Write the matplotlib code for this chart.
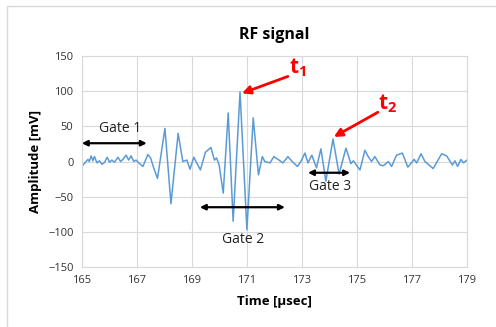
import matplotlib.pyplot as plt
from matplotlib.patches import Rectangle

# waveform (time in usec, amplitude in mV)
time_us = [165.00, 165.22, 165.27, 165.34, 165.40, 165.46, 165.55, 165.64, 165.73, 165.83,
           165.92, 166.01, 166.09, 166.19, 166.31, 166.41, 166.49, 166.61, 166.70, 166.79,
           166.89, 166.97, 167.10, 167.22, 167.40, 167.50, 167.62, 167.75, 168.02, 168.24,
           168.50, 168.67, 168.82, 168.93, 169.07, 169.31, 169.49, 169.69, 169.82, 169.90,
           169.99, 170.14, 170.32, 170.50, 170.75, 171.00, 171.23, 171.42, 171.56, 171.65,
           171.84, 171.98, 172.13, 172.31, 172.49, 172.67, 172.84, 172.96, 173.11, 173.22,
           173.36, 173.53, 173.69, 173.87, 174.13, 174.35, 174.60, 174.78, 174.87, 175.11,
           175.29, 175.41, 175.53, 175.65, 175.84, 175.96, 176.14, 176.26, 176.44, 176.65,
           176.85, 177.08, 177.17, 177.33, 177.47, 177.77, 178.08, 178.26, 178.47, 178.56,
           178.66, 178.78, 178.87, 179.00]
amp_mv = [-7, 3, 0, 8, 1, 7, -2, 1, -4, -1,
          6, -1, 2, -1, 6, 0, 3, 9, 2, 8,
          0, 2, -3, -7, 10, 5, -10, -24, 47, -60,
          40, 0, 2, -11, 6, -12, 13, 20, 2, 5,
          -5, -45, 69, -85, 99, -97, 62, -19, 7, 0,
          -2, 7, 3, -2, 7, -1, -7, 0, 12, -2,
          9, -9, 18, -28, 32, -18, 19, -3, 1, -12,
          16, 7, 0, 7, -5, -6, 0, -7, 9, 12,
          -8, 3, -2, 11, 0, -10, 11, 8, -5, 1,
          -7, 3, -2, 2]

x_ticks = [165, 167, 169, 171, 173, 175, 177, 179]
y_ticks = [-150, -100, -50, 0, 50, 100, 150]

gates = [("Gate 1", 165.0, 167.36, 26, 166.38, 47),
         ("Gate 2", 169.29, 172.38, -65, 170.85, -111),
         ("Gate 3", 173.22, 174.75, -16, 174.02, -36)]

plt.rcParams['font.family'] = ['Open Sans', 'DejaVu Sans']
plt.rcParams['mathtext.fontset'] = 'custom'
plt.rcParams['mathtext.bf'] = 'Open Sans:bold'
plt.rcParams['mathtext.rm'] = 'Open Sans'

fig = plt.figure(figsize=(4.96, 3.27), dpi=100)
fig.patches.append(Rectangle((0.014, -0.2), 1.2, 1.182, transform=fig.transFigure,
                             fill=False, edgecolor='#d9d9d9', lw=1))
ax = fig.add_axes([0.165, 0.1835, 0.7765, 0.6452])

ax.plot(time_us, amp_mv, color='#5b9bd5', lw=1.1)

ax.set_xlim(165, 179)
ax.set_ylim(-150, 150)
ax.set_xticks(x_ticks)
ax.set_yticks(y_ticks)
ax.grid(True, color='#d9d9d9', lw=0.8)
ax.set_axisbelow(True)
for s in ax.spines.values():
    s.set_color('#d9d9d9')
    s.set_linewidth(0.8)
ax.tick_params(length=0, labelsize=8, colors='#333333', pad=6)

ax.set_title('RF signal', fontsize=11.5, fontweight='bold', pad=12)
ax.set_xlabel('Time [µsec]', fontsize=9.5, fontweight='bold', labelpad=6)
ax.set_ylabel('Amplitude [mV]', fontsize=9.5, fontweight='bold', labelpad=4)

for name, x0, x1, y, tx, ty in gates:
    ax.annotate('', xy=(x0, y), xytext=(x1, y),
                arrowprops=dict(arrowstyle='<|-|>', color='black', lw=1.6,
                                mutation_scale=8, shrinkA=0, shrinkB=0))
    ax.text(tx, ty, name, ha='center', va='center', fontsize=10, color='#222222')

ax.annotate('', xy=(170.82, 97), xytext=(172.49, 121),
            arrowprops=dict(arrowstyle='-|>', color='red', lw=2, mutation_scale=12,
                            shrinkA=0, shrinkB=0))
ax.text(172.85, 133, r'$\mathbf{t_1}$', color='red', fontsize=15, ha='center', va='center')
ax.annotate('', xy=(174.16, 35), xytext=(175.76, 70),
            arrowprops=dict(arrowstyle='-|>', color='red', lw=2, mutation_scale=12,
                            shrinkA=0, shrinkB=0))
ax.text(176.13, 82, r'$\mathbf{t_2}$', color='red', fontsize=15, ha='center', va='center')

fig.savefig('out.png', dpi=100)
